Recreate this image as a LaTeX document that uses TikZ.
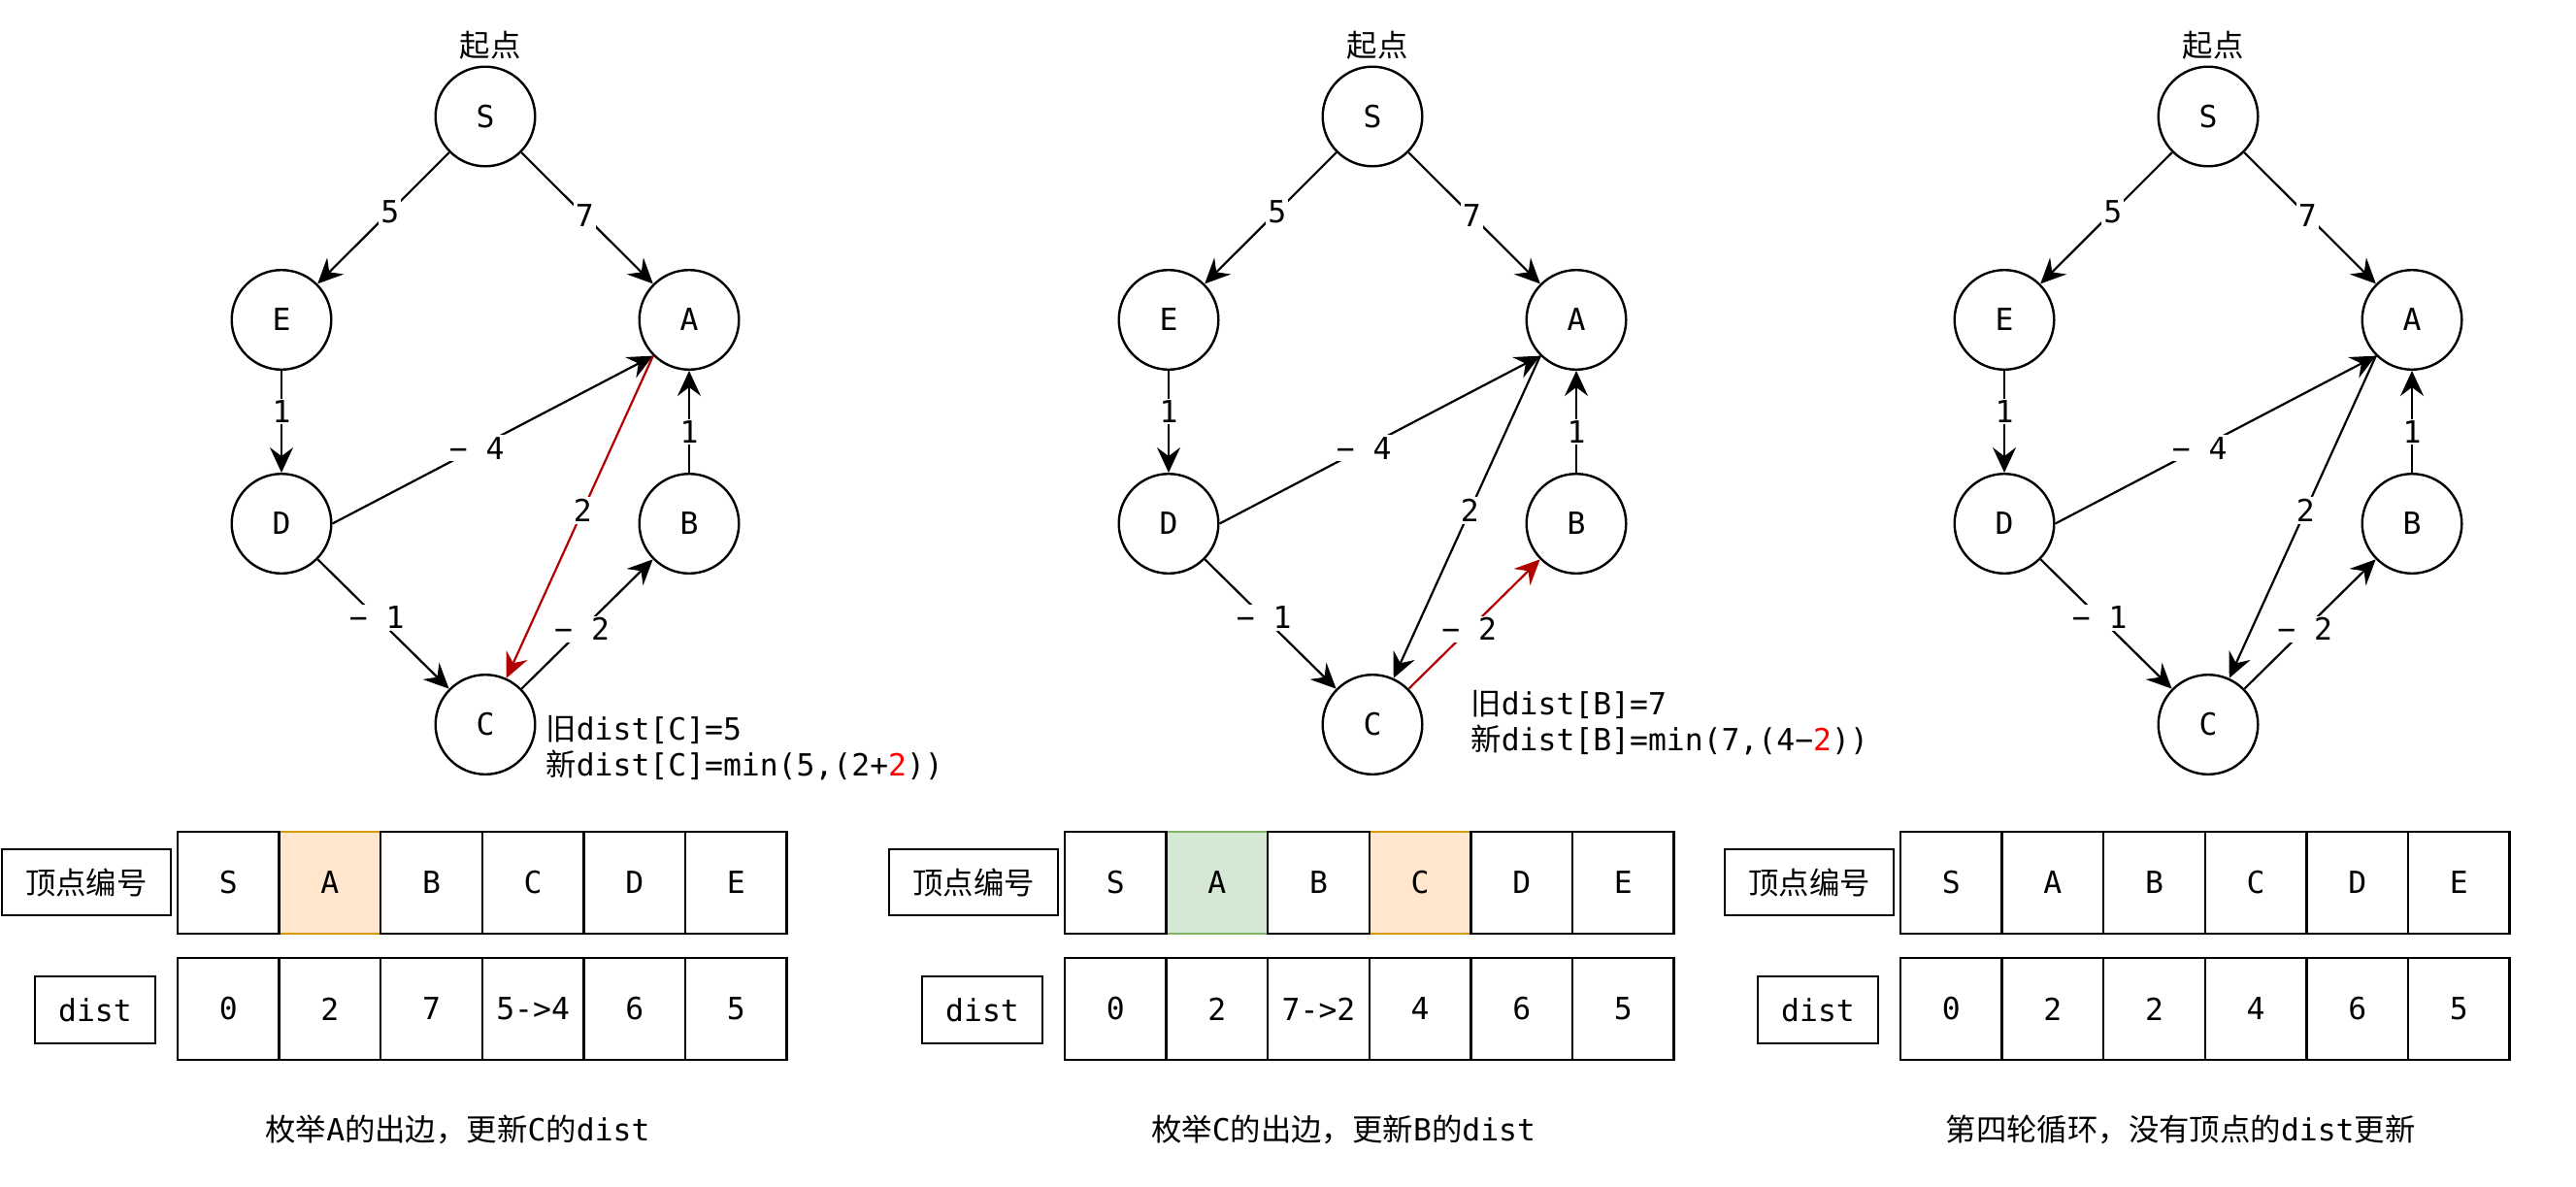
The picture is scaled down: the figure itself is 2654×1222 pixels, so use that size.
\documentclass[tikz,border=0pt]{standalone}
\usepackage{fontspec}
\setmainfont{DejaVu Sans Mono}
\newfontfamily\cjk{Noto Sans CJK SC}
\usetikzlibrary{arrows.meta,positioning}

\definecolor{hotred}{HTML}{B20000}
\definecolor{calcred}{HTML}{FF0000}
\definecolor{orangefill}{HTML}{FFE6CC}
\definecolor{orangeline}{HTML}{D79B00}
\definecolor{greenfill}{HTML}{D5E8D4}
\definecolor{greenline}{HTML}{82B366}

\tikzset{
  vertex/.style={circle, draw, line width=1.2pt, minimum size=51.3pt, inner sep=0pt},
  edge/.style={line width=1.1pt, -{Stealth[length=13pt, width=12pt, inset=4.5pt]}},
  wlabel/.style={fill=white, text=black, inner sep=1pt},
  cell/.style={draw, fill=white, line width=1.2pt, minimum width=52.3pt, minimum height=52.3pt, inner sep=0pt, outer sep=0pt},
  tag/.style={draw, line width=1.2pt, inner sep=0pt},
  note/.style={anchor=west, align=left, inner sep=0pt},
}

\begin{document}
\begin{tikzpicture}[x=0.5pt, y=-0.5pt, font=\fontsize{15.7pt}{18.5pt}\selectfont]
			\useasboundingbox (0,0) rectangle (2654,1222);
			
			%%%%% ROUND 1: edges of A %%%%%
			
			\node[vertex] (s1) at (500,120) {S};
			\node[above=3pt of s1, xshift=2.5pt, inner sep=0pt] (start1) {\cjk 起点};
			\node[vertex] (e1) at (290,329.5) {E};
			\node[vertex] (a1) at (710,329.5) {A};
			\node[vertex] (d1) at (290,539.5) {D};
			\node[vertex] (b1) at (710,539.5) {B};
			\node[vertex] (c1) at (500,746.5) {C};
			
			\draw[edge] (s1) -- node[wlabel, pos=0.45] {5} (e1);
			\draw[edge] (s1) -- node[wlabel, pos=0.48] {7} (a1);
			\draw[edge] (e1) -- node[wlabel, pos=0.4] {1} (d1);
			\draw[edge] (b1) -- node[wlabel, pos=0.4] {1} (a1);
			\draw[edge] (d1.east) -- node[wlabel, pos=0.45] {− 4} (a1.south west);
			\draw[edge, color=hotred] (a1.south west) -- node[wlabel, pos=0.48] {2} (c1);
			\draw[edge] (d1) -- node[wlabel, pos=0.45] {− 1} (c1);
			\draw[edge] (c1) -- node[wlabel, pos=0.46] {− 2} (b1);
			
			\node[note] (old1) at (562,770.5) {{\cjk 旧}dist[C]=5\\{\cjk 新}dist[C]=min(5,(2+\textcolor{calcred}{2}))};
			
			\node[tag, minimum width=87pt, minimum height=34pt] (vtag1) at (89,909) {\cjk 顶点编号};
			\node[tag, minimum width=62pt, minimum height=34.5pt] (dtag1) at (98,1040.5) {dist};
			
			\node[cell, fill=orangefill, draw=orangeline] (v1a) at (339.9,909.5) {A};
			\node[cell] (v1s) at (235.3,909.5) {S};
			\node[cell] (v1b) at (444.5,909.5) {B};
			\node[cell] (v1c) at (549.1,909.5) {C};
			\node[cell] (v1d) at (653.7,909.5) {D};
			\node[cell] (v1e) at (758.3,909.5) {E};
			
			\node[cell] (w1s) at (235.3,1039.5) {0};
			\node[cell] (w1a) at (339.9,1039.5) {2};
			\node[cell] (w1b) at (444.5,1039.5) {7};
			\node[cell] (w1c) at (549.1,1039.5) {5->4};
			\node[cell] (w1d) at (653.7,1039.5) {6};
			\node[cell] (w1e) at (758.3,1039.5) {5};
			
			\node (cap1) at (471.5,1164) {{\cjk 枚举}A{\cjk 的出边，更新}C{\cjk 的}dist};
			
			%%%%% ROUND 2: edges of C %%%%%
			\begin{scope}[shift={(914,0)}]
			\node[vertex] (s2) at (500,120) {S};
			\node[above=3pt of s2, xshift=2.5pt, inner sep=0pt] (start2) {\cjk 起点};
			\node[vertex] (e2) at (290,329.5) {E};
			\node[vertex] (a2) at (710,329.5) {A};
			\node[vertex] (d2) at (290,539.5) {D};
			\node[vertex] (b2) at (710,539.5) {B};
			\node[vertex] (c2) at (500,746.5) {C};
			
			\draw[edge] (s2) -- node[wlabel, pos=0.45] {5} (e2);
			\draw[edge] (s2) -- node[wlabel, pos=0.48] {7} (a2);
			\draw[edge] (e2) -- node[wlabel, pos=0.4] {1} (d2);
			\draw[edge] (b2) -- node[wlabel, pos=0.4] {1} (a2);
			\draw[edge] (d2.east) -- node[wlabel, pos=0.45] {− 4} (a2.south west);
			\draw[edge] (a2.south west) -- node[wlabel, pos=0.48] {2} (c2);
			\draw[edge] (d2) -- node[wlabel, pos=0.45] {− 1} (c2);
			\draw[edge, color=hotred] (c2) -- node[wlabel, pos=0.46] {− 2} (b2);
			
			\node[note] (old2) at (601,745) {{\cjk 旧}dist[B]=7\\{\cjk 新}dist[B]=min(7,(4−\textcolor{calcred}{2}))};
			
			\node[tag, minimum width=87pt, minimum height=34pt] (vtag2) at (89,909) {\cjk 顶点编号};
			\node[tag, minimum width=62pt, minimum height=34.5pt] (dtag2) at (98,1040.5) {dist};
			
			\node[cell, fill=greenfill, draw=greenline] (v2a) at (339.9,909.5) {A};
			\node[cell, fill=orangefill, draw=orangeline] (v2c) at (549.1,909.5) {C};
			\node[cell] (v2s) at (235.3,909.5) {S};
			\node[cell] (v2b) at (444.5,909.5) {B};
			\node[cell] (v2d) at (653.7,909.5) {D};
			\node[cell] (v2e) at (758.3,909.5) {E};
			
			\node[cell] (w2s) at (235.3,1039.5) {0};
			\node[cell] (w2a) at (339.9,1039.5) {2};
			\node[cell] (w2b) at (444.5,1039.5) {7->2};
			\node[cell] (w2c) at (549.1,1039.5) {4};
			\node[cell] (w2d) at (653.7,1039.5) {6};
			\node[cell] (w2e) at (758.3,1039.5) {5};
			
			\node (cap2) at (470,1164) {{\cjk 枚举}C{\cjk 的出边，更新}B{\cjk 的}dist};
			\end{scope}
			
			%%%%% ROUND 4: nothing changes %%%%%
			\begin{scope}[shift={(1775,0)}]
			\node[vertex] (s3) at (500,120) {S};
			\node[above=3pt of s3, xshift=2.5pt, inner sep=0pt] (start3) {\cjk 起点};
			\node[vertex] (e3) at (290,329.5) {E};
			\node[vertex] (a3) at (710,329.5) {A};
			\node[vertex] (d3) at (290,539.5) {D};
			\node[vertex] (b3) at (710,539.5) {B};
			\node[vertex] (c3) at (500,746.5) {C};
			
			\draw[edge] (s3) -- node[wlabel, pos=0.45] {5} (e3);
			\draw[edge] (s3) -- node[wlabel, pos=0.48] {7} (a3);
			\draw[edge] (e3) -- node[wlabel, pos=0.4] {1} (d3);
			\draw[edge] (b3) -- node[wlabel, pos=0.4] {1} (a3);
			\draw[edge] (d3.east) -- node[wlabel, pos=0.45] {− 4} (a3.south west);
			\draw[edge] (a3.south west) -- node[wlabel, pos=0.48] {2} (c3);
			\draw[edge] (d3) -- node[wlabel, pos=0.45] {− 1} (c3);
			\draw[edge] (c3) -- node[wlabel, pos=0.46] {− 2} (b3);
			
			\node[tag, minimum width=87pt, minimum height=34pt] (vtag3) at (89,909) {\cjk 顶点编号};
			\node[tag, minimum width=62pt, minimum height=34.5pt] (dtag3) at (98,1040.5) {dist};
			
			\node[cell] (v3s) at (235.3,909.5) {S};
			\node[cell] (v3a) at (339.9,909.5) {A};
			\node[cell] (v3b) at (444.5,909.5) {B};
			\node[cell] (v3c) at (549.1,909.5) {C};
			\node[cell] (v3d) at (653.7,909.5) {D};
			\node[cell] (v3e) at (758.3,909.5) {E};
			
			\node[cell] (w3s) at (235.3,1039.5) {0};
			\node[cell] (w3a) at (339.9,1039.5) {2};
			\node[cell] (w3b) at (444.5,1039.5) {2};
			\node[cell] (w3c) at (549.1,1039.5) {4};
			\node[cell] (w3d) at (653.7,1039.5) {6};
			\node[cell] (w3e) at (758.3,1039.5) {5};
			
			\node (cap3) at (471.5,1164) {{\cjk 第四轮循环，没有顶点的}dist{\cjk 更新}};
			\end{scope}
			
		\end{tikzpicture}
\end{document}
